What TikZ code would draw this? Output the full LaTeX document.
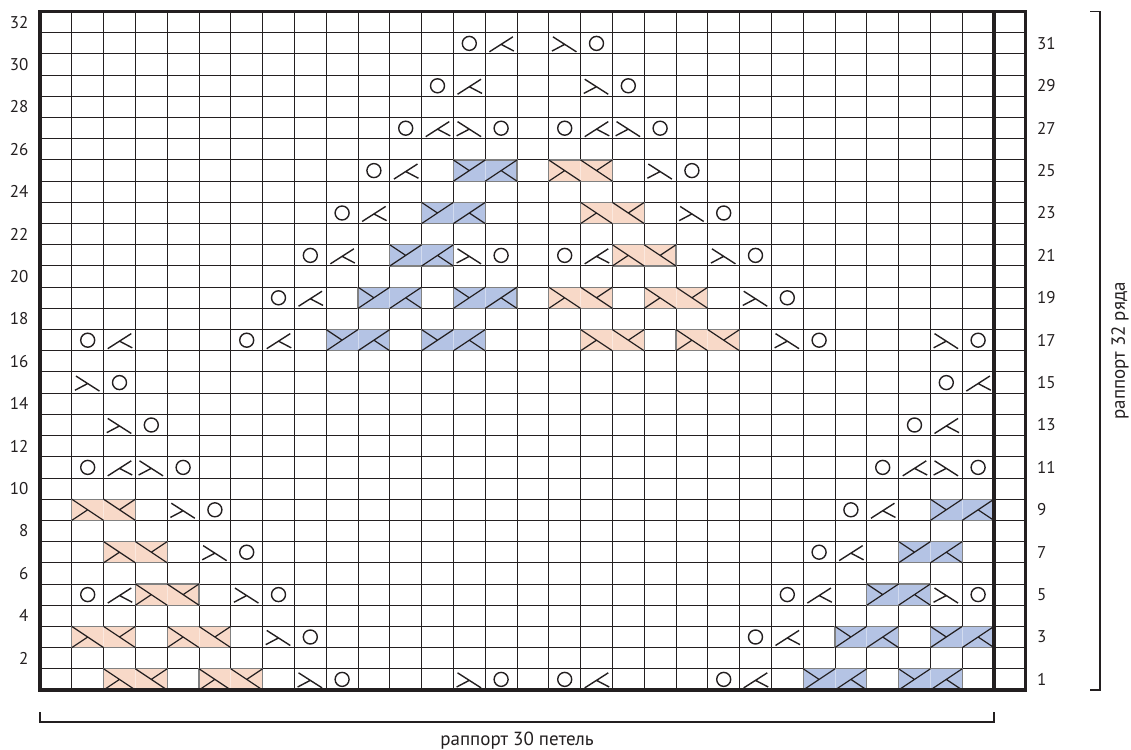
\documentclass[tikz,border=0pt]{standalone}
\usepackage{fontspec}
\setmainfont{PT Sans}
\definecolor{cabpink}{RGB}{248,217,200}
\definecolor{cabblue}{RGB}{180,195,228}
\definecolor{ink}{RGB}{35,31,32}

\begin{document}
\begin{tikzpicture}[x=15.9pt, y=10.6pt, ink,
  sym/.style={line width=0.7pt},
  num/.style={font=\fontsize{8.5}{10}\selectfont, inner sep=0pt},
  replab/.style={font=\fontsize{9.5}{11}\selectfont, inner sep=0pt},
  yo/.pic={\draw[sym] (0.5,0.5) circle[radius=3.5pt];},
  kleft/.pic={\draw[sym] (0.13,0.1) -- (0.87,0.81) (0.5,0.455) -- (0.9,0.14);},
  kright/.pic={\draw[sym] (0.87,0.1) -- (0.13,0.81) (0.5,0.455) -- (0.1,0.14);},
  cabp/.pic={
    \fill[cabpink] (0,0) rectangle (2,1);
    \draw[cabpink!60!white, line width=0.4pt] (1,0) -- (1,1);
    \draw[gray, line width=0.6pt] (0,0) rectangle (2,1);
    \draw[line width=0.6pt] (0,1) -- (1,0) (0,0) -- (0.5,0.5) (1,1) -- (2,0) (1.5,0.5) -- (2,1);},
  cabb/.pic={
    \fill[cabblue] (0,0) rectangle (2,1);
    \draw[cabblue!60!white, line width=0.4pt] (1,0) -- (1,1);
    \draw[gray, line width=0.6pt] (0,0) rectangle (2,1);
    \draw[line width=0.6pt] (0,0) -- (1,1) (0,1) -- (0.5,0.5) (1,0) -- (2,1) (1.5,0.5) -- (2,0);}]
  \useasboundingbox (-1.258,-2.830) rectangle (34.308,32.547);
  % chart grid
  \draw[line width=0.5pt] (0,0) grid[xstep=1, ystep=1] (31,32);
  % cables
  \foreach \c/\r in {3/1, 6/1, 2/3, 5/3, 4/5, 3/7, 2/9, 18/17, 21/17, 17/19, 20/19, 19/21, 18/23, 17/25}
    \pic at (\c-1,\r-1) {cabp};
  \foreach \c/\r in {25/1, 28/1, 26/3, 29/3, 27/5, 28/7, 29/9, 10/17, 13/17, 11/19, 14/19, 12/21, 13/23, 14/25}
    \pic at (\c-1,\r-1) {cabb};
  % yarn overs and decreases
  \foreach \c/\r in {10/1, 15/1, 17/1, 22/1, 9/3, 23/3, 2/5, 8/5, 24/5, 30/5, 7/7, 25/7, 6/9, 26/9,
      2/11, 5/11, 27/11, 30/11, 4/13, 28/13, 3/15, 29/15, 2/17, 7/17, 25/17, 30/17, 8/19, 24/19,
      9/21, 15/21, 17/21, 23/21, 10/23, 22/23, 11/25, 21/25, 12/27, 15/27, 17/27, 20/27, 13/29, 19/29, 14/31, 18/31}
    \pic at (\c-1,\r-1) {yo};
  \foreach \c/\r in {18/1, 23/1, 24/3, 3/5, 25/5, 26/7, 27/9, 3/11, 28/11, 29/13, 30/15, 3/17, 8/17,
      9/19, 10/21, 18/21, 11/23, 12/25, 13/27, 18/27, 14/29, 15/31}
    \pic at (\c-1,\r-1) {kleft};
  \foreach \c/\r in {9/1, 14/1, 8/3, 7/5, 29/5, 6/7, 5/9, 4/11, 29/11, 3/13, 2/15, 24/17, 29/17,
      23/19, 14/21, 22/21, 21/23, 20/25, 14/27, 19/27, 18/29, 17/31}
    \pic at (\c-1,\r-1) {kright};
  % frame
  \draw[line width=1.6pt] (0,0) rectangle (31,32);
  \draw[line width=1.6pt] (30,0) -- (30,32);
  % row numbers
  \foreach \n in {2,4,...,32}
    \node[num, anchor=east] (ev\n) at (-0.35,\n-0.5) {\n};
  \foreach \n in {1,3,...,31}
    \node[num, anchor=west] (od\n) at (31.34,\n-0.5) {\n};
  % repeat brackets
  \draw[line width=0.9pt] (0,-1.04) -- (0,-1.51) -- (30,-1.51) -- (30,-1.04);
  \node[replab] (wlab) at (15,-2.4) {раппорт 30 петель};
  \draw[line width=0.9pt] (33.02,32) -- (33.33,32) -- (33.33,0) -- (33.02,0);
  \node[replab, rotate=90] (hlab) at (33.96,16) {раппорт 32 ряда};
\end{tikzpicture}
\end{document}
